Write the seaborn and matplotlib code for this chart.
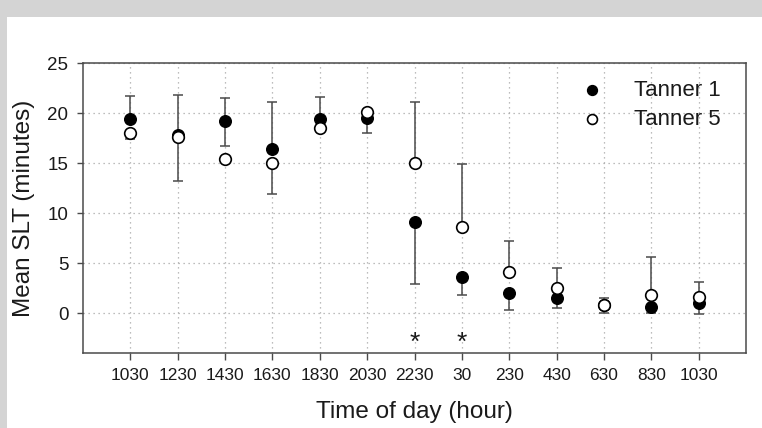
import numpy as np
import pandas as pd
import matplotlib
matplotlib.use("Agg")
import matplotlib.pyplot as plt
import seaborn as sns
from matplotlib.patches import Rectangle

# ---- data ----
time_labels = ["1030", "1230", "1430", "1630", "1830", "2030", "2230",
               "30", "230", "430", "630", "830", "1030"]
tanner1 = [19.4, 17.8, 19.2, 16.4, 19.4, 19.5, 9.1, 3.6, 2.0, 1.5, 0.8, 0.6, 1.0]
tanner5 = [18.0, 17.6, 15.4, 15.0, 18.5, 20.1, 15.0, 8.6, 4.1, 2.5, 0.8, 1.8, 1.6]
tanner1_err_low = [0.0, 0.0, 2.5, 0.0, 0.0, 1.5, 6.2, 1.8, 1.7, 1.0, 0.8, 0.6, 1.1]
tanner1_err_high = [2.3, 4.0, 2.3, 4.7, 2.2, 0.0, 0.0, 0.0, 0.0, 0.0, 0.0, 0.0, 0.0]
tanner5_err_low = [0.6, 4.4, 0.0, 3.1, 0.0, 0.0, 0.0, 0.0, 0.0, 0.0, 0.0, 0.0, 0.0]
tanner5_err_high = [0.0, 0.0, 0.0, 0.0, 0.0, 0.0, 6.1, 6.3, 3.1, 2.0, 0.7, 3.8, 1.5]
significant = ["2230", "30"]
series_names = ["Tanner 1", "Tanner 5"]

pos = np.arange(len(time_labels))
df = pd.DataFrame({
    "pos": np.concatenate([pos, pos]),
    "value": tanner1 + tanner5,
    "series": [series_names[0]] * len(pos) + [series_names[1]] * len(pos),
})

sns.set_style("white")
plt.rcParams["font.family"] = ["Liberation Sans", "DejaVu Sans"]

fig = plt.figure(figsize=(7.62, 4.28), dpi=100)
fig.patch.set_facecolor("white")
# decorative grey frame strips
fig.add_artist(Rectangle((0, 1 - 17 / 428), 1, 17 / 428, transform=fig.transFigure,
                         facecolor="#d4d4d4", edgecolor="none", zorder=-10))
fig.add_artist(Rectangle((0, 0), 7 / 762, 1, transform=fig.transFigure,
                         facecolor="#d4d4d4", edgecolor="none", zorder=-10))

ax = fig.add_axes([83 / 762, 1 - 353 / 428, (746 - 83) / 762, (353 - 63) / 428])

spine_col = "#4a4a4a"
err_col = "#4a4a4a"

for vals, lo, hi in [(tanner1, tanner1_err_low, tanner1_err_high),
                     (tanner5, tanner5_err_low, tanner5_err_high)]:
    lo = np.array(lo); hi = np.array(hi); vals = np.array(vals)
    m = hi > 0
    ax.errorbar(pos[m], vals[m], yerr=[np.zeros(m.sum()), hi[m]], fmt="none",
                ecolor=err_col, elinewidth=1.1, capsize=3.3, capthick=1.1, zorder=2)
    m = lo > 0
    ax.errorbar(pos[m], vals[m], yerr=[lo[m], np.zeros(m.sum())], fmt="none",
                ecolor=err_col, elinewidth=1.1, capsize=3.3, capthick=1.1, zorder=2)

d1 = df[df["series"] == series_names[0]]
d5 = df[df["series"] == series_names[1]]
sns.scatterplot(data=d1, x="pos", y="value", ax=ax, color="black", edgecolor="black",
                s=70, linewidth=1.0, label=series_names[0], zorder=3)
sns.scatterplot(data=d5, x="pos", y="value", ax=ax, color="white", edgecolor="black",
                s=70, linewidth=1.2, label=series_names[1], zorder=4)

for lab in significant:
    i = time_labels.index(lab)
    ax.text(pos[i], -3.0, "*", ha="center", va="center", fontsize=19, color="#1a1a1a")

ax.set_xlim(-1, len(time_labels))
ax.set_ylim(-4, 25)
ax.set_xticks(pos)
ax.set_xticklabels(time_labels)
ax.set_yticks([0, 5, 10, 15, 20, 25])

ax.grid(True, axis="both", color="#a8a8a8", linestyle=(0, (1, 3)), linewidth=0.9)
ax.set_axisbelow(True)
for s in ax.spines.values():
    s.set_visible(True)
    s.set_color(spine_col)
    s.set_linewidth(1.1)

ax.tick_params(axis="x", direction="out", length=5, width=1.0, color=spine_col,
               labelsize=12.5, pad=6, labelcolor="#1a1a1a", bottom=True)
ax.tick_params(axis="y", direction="out", length=4.5, width=1.0, color=spine_col,
               labelsize=13.5, pad=6, labelcolor="#1a1a1a", left=True)

ax.set_xlabel("Time of day (hour)", fontsize=17.5, color="#1a1a1a", labelpad=13)
ax.set_ylabel("Mean SLT (minutes)", fontsize=17.5, color="#1a1a1a", labelpad=9)

leg = ax.legend(loc="upper right", bbox_to_anchor=(0.985, 0.995), frameon=False,
                fontsize=16, markerscale=0.85, handletextpad=0.9,
                labelspacing=0.35, borderaxespad=0.3)
for t in leg.get_texts():
    t.set_color("#1a1a1a")

fig.savefig("out.png", dpi=100, facecolor=fig.get_facecolor())
